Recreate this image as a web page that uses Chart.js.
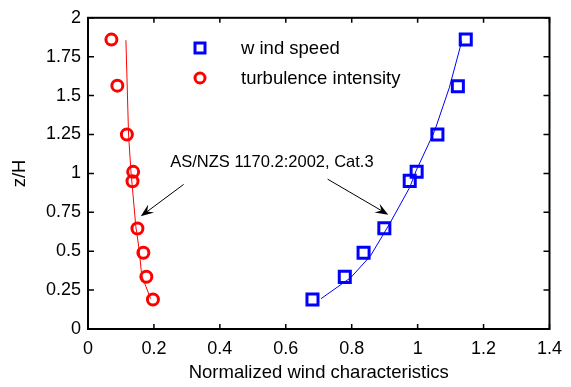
<!DOCTYPE html>
<html>
<head>
<meta charset="utf-8">
<script src="https://cdn.jsdelivr.net/npm/chart.js@4/dist/chart.umd.min.js"></script>
<style>
  html, body { margin: 0; padding: 0; background: #fff; }
  #wrap { width: 571px; height: 387px; position: relative; }
</style>
</head>
<body>
<div id="wrap"><canvas id="graf"></canvas></div>
<script>
"use strict";

// measured points
const windZ = [0.19, 0.335, 0.49, 0.648, 0.952, 1.01, 1.25, 1.56, 1.86];
const windU = [0.681, 0.779, 0.836, 0.899, 0.976, 0.997, 1.06, 1.122, 1.146];
const tiZ   = [0.19, 0.336, 0.49, 0.646, 0.95, 1.01, 1.25, 1.564, 1.86];
const tiI   = [0.197, 0.177, 0.168, 0.150, 0.135, 0.137, 0.118, 0.089, 0.071];

// AS/NZS 1170.2:2002 Cat.3 profiles
const stdWindZ = [0.195, 0.33, 0.47, 0.68, 0.91, 1.02, 1.27, 1.55, 1.85];
const stdWindU = [0.707, 0.797, 0.857, 0.916, 0.976, 0.996, 1.051, 1.096, 1.134];
const stdTiZ   = [0.195, 0.343, 0.514, 0.66, 1.02, 1.253, 1.856];
const stdTiI   = [0.190, 0.163, 0.155, 0.145, 0.130, 0.123, 0.115];

const xTicks = [0, 0.2, 0.4, 0.6, 0.8, 1, 1.2, 1.4];
const yTicks = [0, 0.25, 0.5, 0.75, 1, 1.25, 1.5, 1.75, 2];

const legendLabels = ["w ind speed", "turbulence intensity"];
const noteText = "AS/NZS 1170.2:2002, Cat.3";
const notePos  = { x: 0.558, y: 1.073 };
const arrows = [
  { fx: 0.29,  fy: 0.929, tx: 0.16,  ty: 0.724 },
  { fx: 0.727, fy: 0.963, tx: 0.911, ty: 0.735 }
];

const FONT = "'Liberation Sans', Arial, sans-serif";

function punkter(xs, ys) {
  return xs.map((x, i) => ({ x: x, y: ys[i] }));
}

function pil(ctx, x1, y1, x2, y2) {
  const vinkel = Math.atan2(y2 - y1, x2 - x1);
  const l = 13, b = 5;
  ctx.beginPath();
  ctx.moveTo(x1, y1);
  ctx.lineTo(x2 - Math.cos(vinkel) * 6, y2 - Math.sin(vinkel) * 6);
  ctx.stroke();
  ctx.beginPath();
  ctx.moveTo(x2, y2);
  ctx.lineTo(x2 - l * Math.cos(vinkel) + b * Math.sin(vinkel), y2 - l * Math.sin(vinkel) - b * Math.cos(vinkel));
  ctx.lineTo(x2 - 8 * Math.cos(vinkel), y2 - 8 * Math.sin(vinkel));
  ctx.lineTo(x2 - l * Math.cos(vinkel) - b * Math.sin(vinkel), y2 - l * Math.sin(vinkel) + b * Math.cos(vinkel));
  ctx.closePath();
  ctx.fill();
}

const rammePlugin = {
  id: "ramme",
  afterDraw(chart) {
    const { ctx, chartArea: a, scales } = chart;
    const sx = scales.x, sy = scales.y;
    ctx.save();
    ctx.strokeStyle = "#000";
    ctx.lineWidth = 2;
    ctx.strokeRect(a.left, a.top, a.right - a.left, a.bottom - a.top);
    ctx.lineWidth = 1.5;
    ctx.beginPath();
    xTicks.forEach(v => {
      const px = sx.getPixelForValue(v);
      ctx.moveTo(px, a.bottom); ctx.lineTo(px, a.bottom - 5);
      ctx.moveTo(px, a.top);    ctx.lineTo(px, a.top + 5);
    });
    yTicks.forEach(v => {
      const py = sy.getPixelForValue(v);
      ctx.moveTo(a.left, py);  ctx.lineTo(a.left + 6, py);
      ctx.moveTo(a.right, py); ctx.lineTo(a.right - 6, py);
    });
    ctx.stroke();

    // annotation
    ctx.fillStyle = "#000";
    ctx.font = "16.5px " + FONT;
    ctx.textAlign = "center";
    ctx.textBaseline = "middle";
    ctx.fillText(noteText, sx.getPixelForValue(notePos.x), sy.getPixelForValue(notePos.y));
    ctx.lineWidth = 1;
    arrows.forEach(p => {
      pil(ctx, sx.getPixelForValue(p.fx), sy.getPixelForValue(p.fy),
               sx.getPixelForValue(p.tx), sy.getPixelForValue(p.ty));
    });

    // legend
    const lx = 200, ly = [48, 78];
    ctx.lineWidth = 3;
    ctx.strokeStyle = "#0000ff";
    ctx.strokeRect(lx - 5, ly[0] - 5, 10, 10);
    ctx.strokeStyle = "#ff0000";
    ctx.beginPath();
    ctx.arc(lx, ly[1], 5, 0, Math.PI * 2);
    ctx.stroke();
    ctx.font = "18.5px " + FONT;
    ctx.textAlign = "left";
    ctx.fillStyle = "#000";
    legendLabels.forEach((t, i) => ctx.fillText(t, 241, ly[i] + 1));
    ctx.restore();
  }
};

new Chart(document.getElementById("graf").getContext("2d"), {
  type: "scatter",
  data: {
    datasets: [
      { data: punkter(stdWindU, stdWindZ), showLine: true, borderColor: "#0000ff", borderWidth: 1, pointRadius: 0 },
      { data: punkter(stdTiI, stdTiZ),     showLine: true, borderColor: "#ff0000", borderWidth: 1, pointRadius: 0 },
      { data: punkter(windU, windZ), pointStyle: "rect", pointRadius: 7.8, borderColor: "#0000ff", borderWidth: 3, backgroundColor: "rgba(0,0,0,0)" },
      { data: punkter(tiI, tiZ), pointStyle: "circle", pointRadius: 5.5, borderColor: "#ff0000", borderWidth: 3, backgroundColor: "rgba(0,0,0,0)" }
    ]
  },
  options: {
    responsive: true,
    maintainAspectRatio: false,
    animation: false,
    events: [],
    layout: { padding: { left: 0, right: 14, top: 14, bottom: 0 } },
    plugins: { legend: { display: false }, tooltip: { enabled: false } },
    scales: {
      x: {
        min: 0, max: 1.4,
        afterFit(s) { s.height = 58; },
        afterBuildTicks(s) { s.ticks = xTicks.map(v => ({ value: v })); },
        grid: { display: false, drawTicks: false },
        border: { display: false },
        ticks: { color: "#000", padding: 9, maxRotation: 0, font: { family: FONT, size: 18 }, callback: v => String(v) },
        title: { display: true, text: "Normalized wind characteristics", color: "#000", padding: { top: 0, bottom: 3 }, font: { family: FONT, size: 18.5 } }
      },
      y: {
        min: 0, max: 2,
        afterFit(s) { s.width = 88; },
        afterBuildTicks(s) { s.ticks = yTicks.map(v => ({ value: v })); },
        grid: { display: false, drawTicks: false },
        border: { display: false },
        ticks: { color: "#000", padding: 7, font: { family: FONT, size: 18 }, callback: v => String(v) },
        title: { display: true, text: "z/H", color: "#000", padding: { top: 9, bottom: 0 }, font: { family: FONT, size: 18.5 } }
      }
    }
  },
  plugins: [rammePlugin]
});
</script>
</body>
</html>
